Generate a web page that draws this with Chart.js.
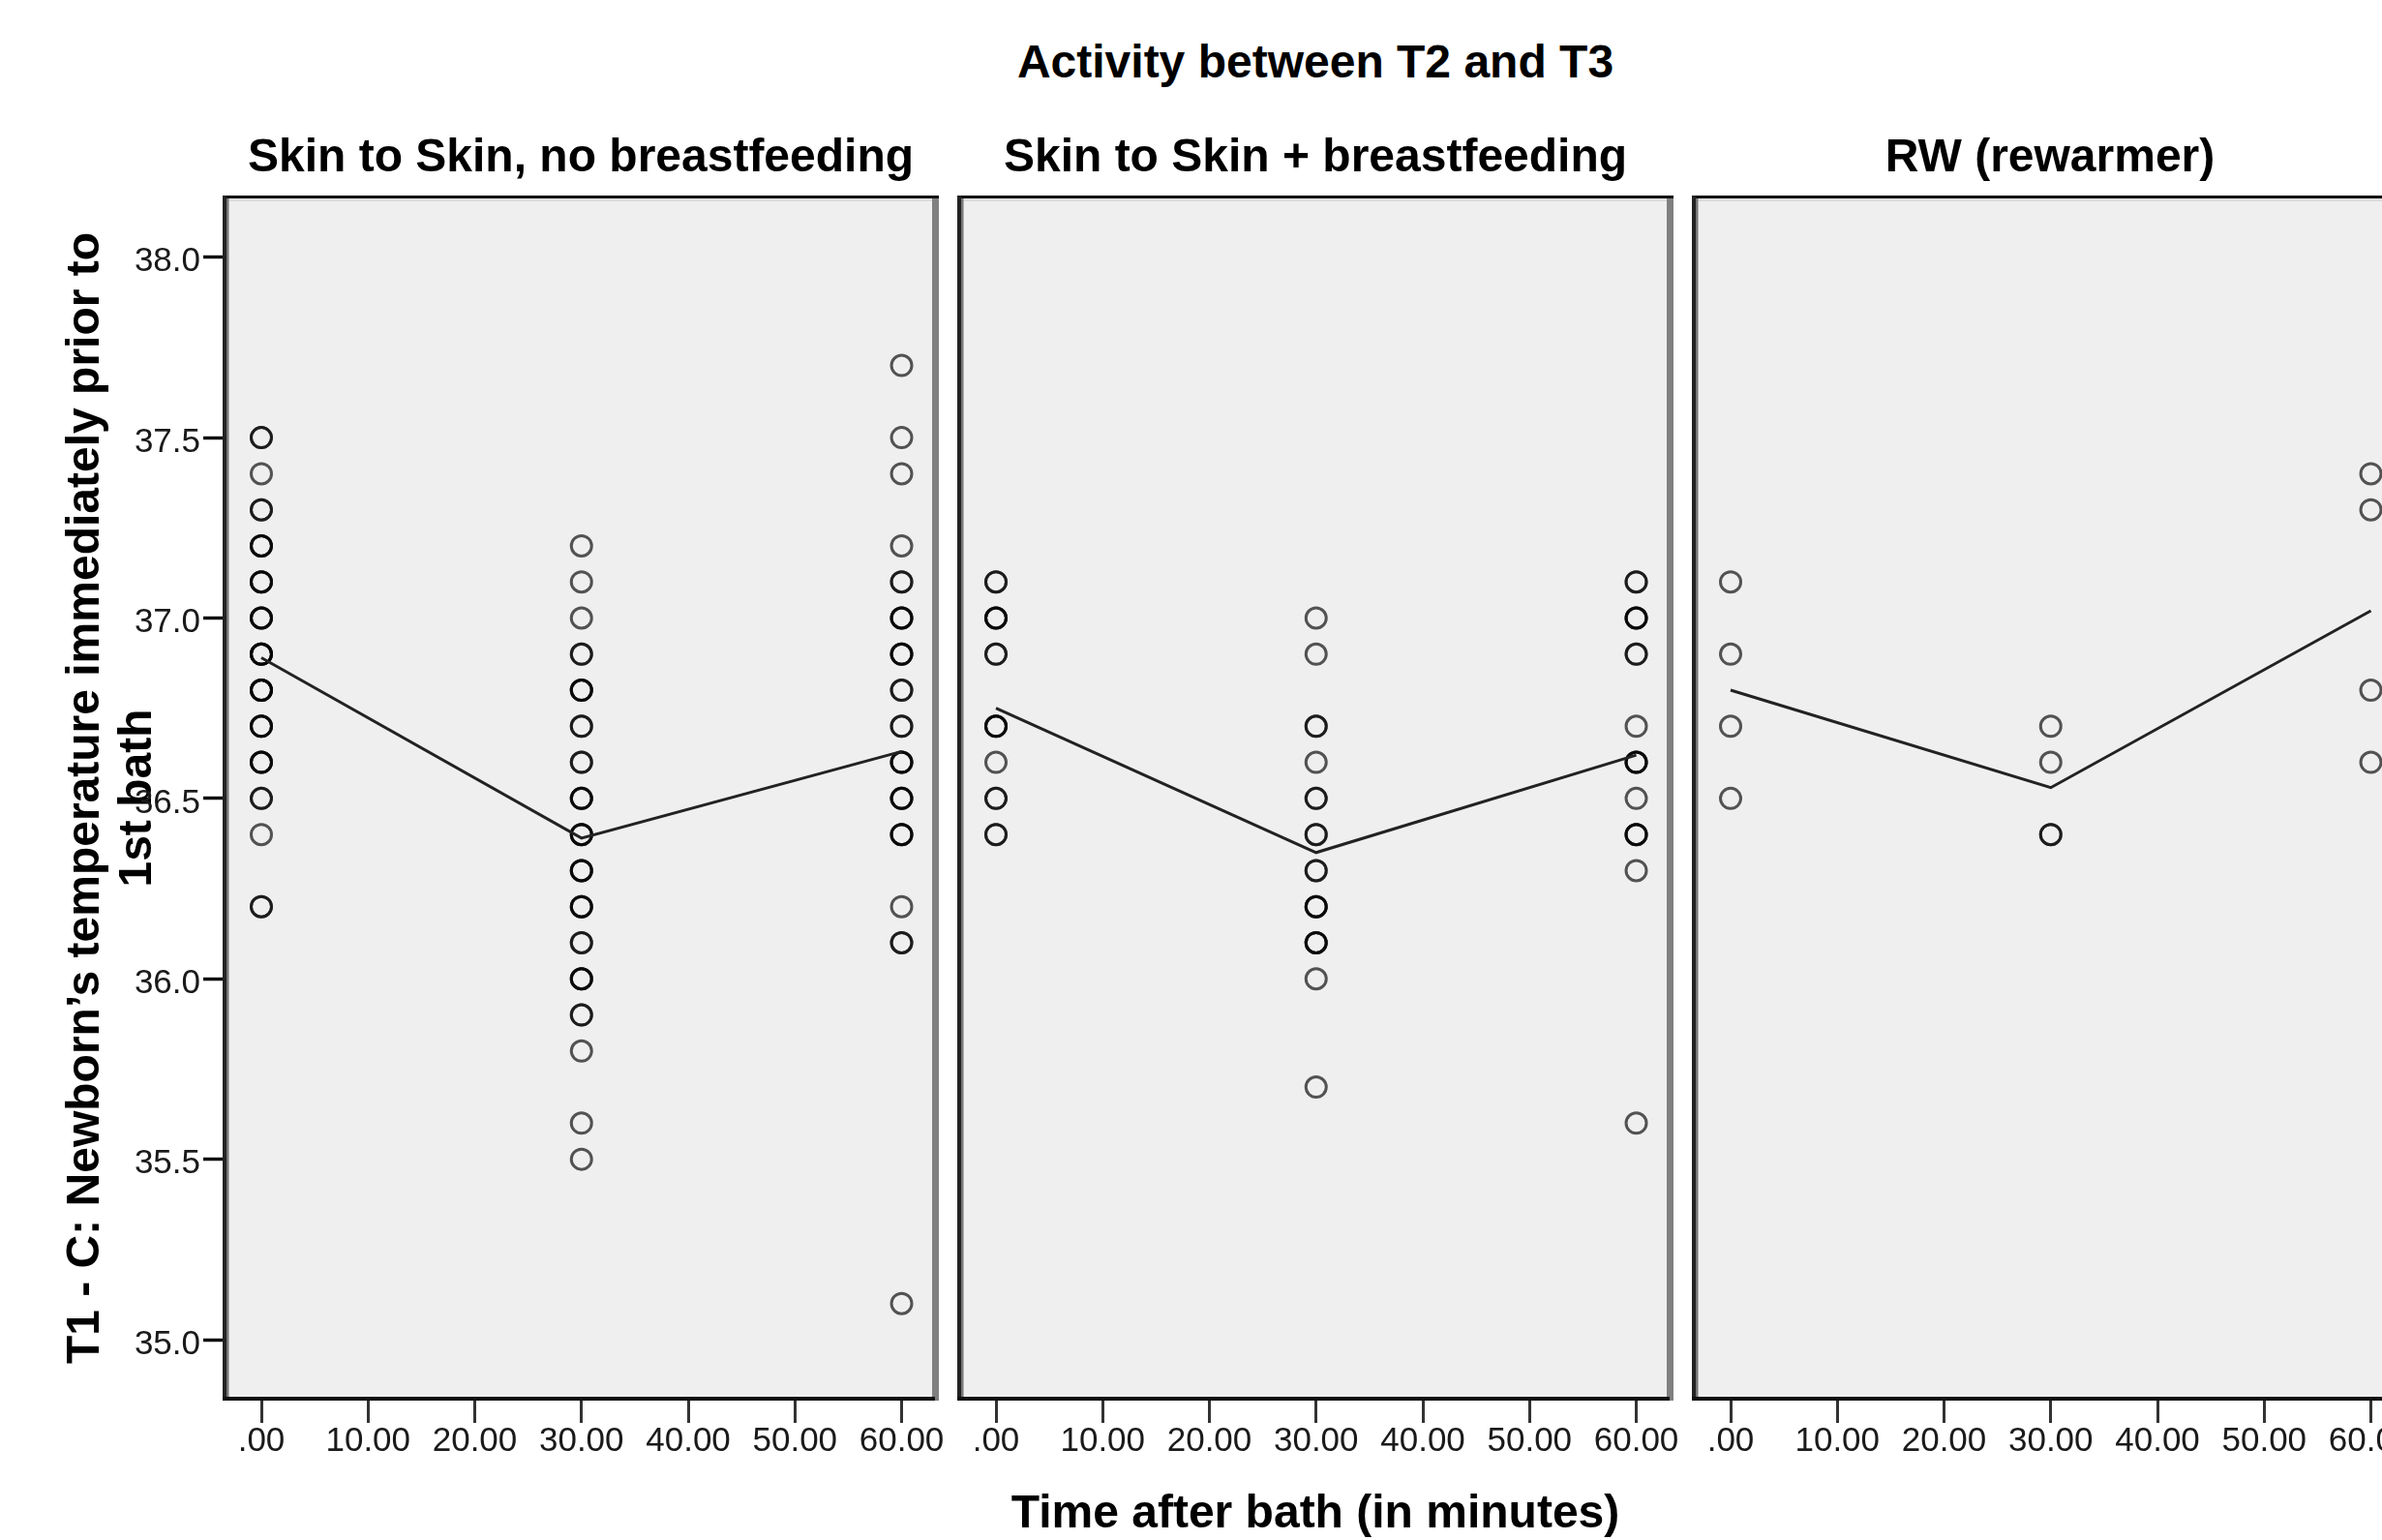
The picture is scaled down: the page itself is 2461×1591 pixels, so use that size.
<!DOCTYPE html>
<html>
<head>
<meta charset="utf-8">
<script src="https://cdn.jsdelivr.net/npm/chart.js@4.4.1/dist/chart.umd.min.js"></script>
<style>
  html, body { margin: 0; padding: 0; background: #fff; overflow: hidden; }
  #page { position: relative; width: 2461px; height: 1591px; overflow: hidden; background: #fff; }
  #page canvas { position: absolute; top: 0; }
  .ttl {
    position: absolute;
    font-family: "Liberation Sans", Arial, sans-serif;
    font-weight: bold;
    font-size: 48px;
    line-height: 48px;
    color: #000;
    white-space: nowrap;
    transform: translateX(-50%);
  }
</style>
</head>
<body>
<div id="page">
  <div class="ttl" style="left:1359px; top:40px;">Activity between T2 and T3</div>
</div>
<script>
const timePoints = [0, 30, 60];
const panelTitles = ['Skin to Skin, no breastfeeding', 'Skin to Skin + breastfeeding', 'RW (rewarmer)'];

// one value per newborn, repeated values overlap and come out darker
const noBfAt0 = [37.5, 37.5, 37.4, 37.3, 37.3, 37.2, 37.2, 37.2, 37.1, 37.1, 37.1, 37.0, 37.0, 37.0,
  36.9, 36.9, 36.9, 36.9, 36.8, 36.8, 36.8, 36.8, 36.7, 36.7, 36.7, 36.6, 36.6, 36.6,
  36.5, 36.5, 36.4, 36.2, 36.2];
const noBfAt30 = [37.2, 37.1, 37.0, 36.9, 36.9, 36.8, 36.8, 36.8, 36.7, 36.7, 36.6, 36.6,
  36.5, 36.5, 36.5, 36.4, 36.4, 36.4, 36.3, 36.3, 36.3, 36.2, 36.2, 36.2, 36.1, 36.1,
  36.0, 36.0, 36.0, 35.9, 35.9, 35.8, 35.6, 35.5];
const noBfAt60 = [37.7, 37.5, 37.4, 37.2, 37.1, 37.1, 37.0, 37.0, 37.0, 36.9, 36.9, 36.9,
  36.8, 36.8, 36.7, 36.7, 36.6, 36.6, 36.6, 36.5, 36.5, 36.5, 36.4, 36.4, 36.4,
  36.2, 36.1, 36.1, 35.1];

const bfAt0 = [37.1, 37.1, 37.0, 37.0, 37.0, 36.9, 36.9, 36.7, 36.7, 36.7, 36.6, 36.5, 36.5, 36.4, 36.4];
const bfAt30 = [37.0, 36.9, 36.7, 36.7, 36.6, 36.5, 36.5, 36.4, 36.4, 36.3, 36.3,
  36.2, 36.2, 36.2, 36.1, 36.1, 36.1, 36.0, 35.7];
const bfAt60 = [37.1, 37.1, 37.0, 37.0, 37.0, 36.9, 36.9, 36.7, 36.6, 36.6, 36.6,
  36.5, 36.4, 36.4, 36.4, 36.3, 35.6];

const rwAt0 = [37.1, 36.9, 36.7, 36.5];
const rwAt30 = [36.7, 36.6, 36.4, 36.4];
const rwAt60 = [37.4, 37.3, 36.8, 36.6];

// mean line
const noBfMean = [36.89, 36.39, 36.63];
const bfMean = [36.75, 36.35, 36.62];
const rwMean = [36.80, 36.53, 37.02];

const yTicks = [35.0, 35.5, 36.0, 36.5, 37.0, 37.5, 38.0];
const xTicks = [0, 10, 20, 30, 40, 50, 60];
const xTickLabels = ['.00', '10.00', '20.00', '30.00', '40.00', '50.00', '60.00'];

const FONT = '"Liberation Sans", Arial, sans-serif';
const page = document.getElementById('page');

function toPoints(lists) {
  return lists.flatMap((vals, i) => vals.map(v => ({ x: timePoints[i], y: v })));
}

// grey panel with SPSS style frame
const panelFrame = {
  id: 'panelFrame',
  beforeDraw(chart) {
    const { ctx, chartArea: a } = chart;
    ctx.save();
    ctx.fillStyle = '#efefef';
    ctx.fillRect(a.left, a.top, a.right - a.left, a.bottom - a.top);
    ctx.restore();
  },
  afterDraw(chart) {
    const { ctx, chartArea: a } = chart;
    const w = a.right - a.left, h = a.bottom - a.top;
    ctx.save();
    ctx.fillStyle = '#dcdcdc';
    ctx.fillRect(a.left, a.top + 3, w, 3);
    ctx.fillStyle = '#808080';
    ctx.fillRect(a.right - 7, a.top, 7, h);
    ctx.fillStyle = '#777';
    ctx.fillRect(a.left + 4, a.top, 2.5, h);
    ctx.fillStyle = '#111';
    ctx.fillRect(a.left, a.top, w, 3);
    ctx.fillStyle = '#222';
    ctx.fillRect(a.left, a.top, 4, h);
    ctx.fillStyle = '#111';
    ctx.fillRect(a.left, a.bottom - 4, w - 4, 4);
    ctx.restore();
  }
};

const panels = [
  { title: panelTitles[0], values: [noBfAt0, noBfAt30, noBfAt60], mean: noBfMean, left: 0, width: 990, showY: true, xTitle: false },
  { title: panelTitles[1], values: [bfAt0, bfAt30, bfAt60], mean: bfMean, left: 969, width: 780, showY: false, xTitle: true },
  { title: panelTitles[2], values: [rwAt0, rwAt30, rwAt60], mean: rwMean, left: 1728, width: 780, showY: false, xTitle: false }
];

panels.forEach((p) => {
  const canvas = document.createElement('canvas');
  canvas.width = p.width;
  canvas.height = 1591;
  canvas.style.left = p.left + 'px';
  canvas.style.width = p.width + 'px';
  canvas.style.height = '1591px';
  page.appendChild(canvas);

  const padLeft = p.showY ? 0 : 20;
  const areaLeft = p.left + (p.showY ? 230 : 20);
  const areaRight = p.left + p.width - 20;

  const t = document.createElement('div');
  t.className = 'ttl';
  t.textContent = p.title;
  t.style.left = ((areaLeft + areaRight) / 2) + 'px';
  t.style.top = '137px';
  page.appendChild(t);

  new Chart(canvas, {
    type: 'scatter',
    data: {
      datasets: [
        {
          data: toPoints(p.values),
          pointRadius: 10.5,
          pointBorderWidth: 3,
          pointBorderColor: 'rgba(0,0,0,0.66)',
          pointBackgroundColor: 'rgba(0,0,0,0)',
          order: 2
        },
        {
          data: p.mean.map((m, i) => ({ x: timePoints[i], y: m })),
          showLine: true,
          borderColor: '#222',
          borderWidth: 3,
          pointRadius: 0,
          order: 1
        }
      ]
    },
    options: {
      responsive: false,
      animation: false,
      devicePixelRatio: 1,
      events: [],
      layout: { padding: { left: padLeft, right: 20, top: 202, bottom: 0 } },
      plugins: { legend: { display: false }, tooltip: { enabled: false } },
      scales: {
        x: {
          type: 'linear',
          min: -3.628,
          max: 63.49,
          afterBuildTicks: (s) => { s.ticks = xTicks.map(v => ({ value: v })); },
          afterFit: (s) => { s.height = 144; },
          grid: { drawOnChartArea: false, drawTicks: true, tickLength: 23, tickWidth: 3, tickColor: '#333' },
          border: { display: false },
          ticks: {
            autoSkip: false,
            maxRotation: 0,
            padding: 0,
            color: '#1a1a1a',
            font: { family: FONT, size: 35, lineHeight: 1.1 },
            callback: (v) => xTickLabels[xTicks.indexOf(v)]
          },
          title: {
            display: p.xTitle,
            text: 'Time after bath (in minutes)',
            color: '#000',
            font: { family: FONT, size: 48, weight: 'bold', lineHeight: 1 },
            padding: { top: 0, bottom: 2.5 }
          }
        },
        y: {
          display: p.showY,
          min: 34.831,
          max: 38.171,
          afterBuildTicks: (s) => { s.ticks = yTicks.map(v => ({ value: v })); },
          afterFit: (s) => { s.width = p.showY ? 230 : 0; },
          grid: { drawOnChartArea: false, drawTicks: true, tickLength: 20, tickWidth: 3.5, tickColor: '#111' },
          border: { display: false },
          ticks: {
            autoSkip: false,
            padding: 3,
            labelOffset: 5,
            color: '#1a1a1a',
            font: { family: FONT, size: 35, lineHeight: 1.1 },
            callback: (v) => v.toFixed(1)
          },
          title: {
            display: p.showY,
            text: ['T1 - C: Newborn\u2019s temperature immediately prior to', '1st bath'],
            color: '#000',
            font: { family: FONT, size: 48, weight: 'bold', lineHeight: 1.125 },
            padding: { top: 62, bottom: 0 }
          }
        }
      }
    },
    plugins: [panelFrame]
  });
});
</script>
</body>
</html>
